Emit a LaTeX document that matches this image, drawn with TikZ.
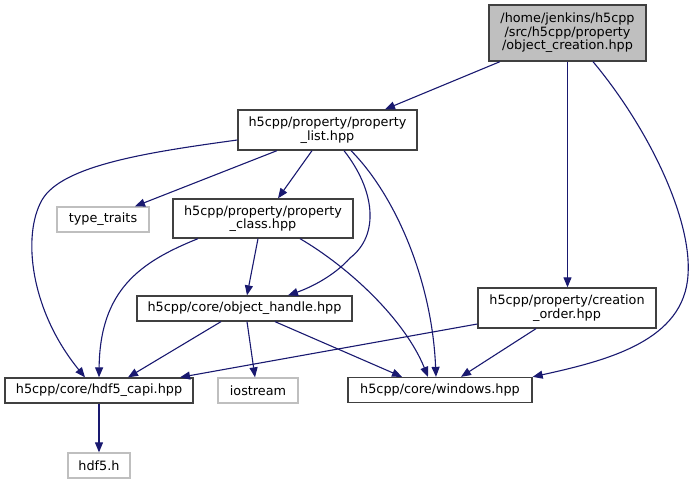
\documentclass[tikz,border=0pt]{standalone}
\usepackage{fontspec}
\setmainfont{DejaVu Sans}
\usetikzlibrary{arrows.meta}
\definecolor{edgecol}{HTML}{191970}
\definecolor{boxcol}{HTML}{404040}
\definecolor{lgray}{HTML}{BFBFBF}
\tikzset{
  fbox/.style={draw=boxcol, line width=1.3pt, fill=white, inner sep=0pt, align=center,
    font=\fontsize{12.8}{13.6}\selectfont},
  gbox/.style={fbox, draw=lgray},
  edge/.style={draw=edgecol, line width=1.1pt, -{Triangle[length=10pt,width=8pt]}},
}
\begin{document}
\begin{tikzpicture}[x=1pt,y=-1pt]
\useasboundingbox (0,0) rectangle (696,484);
\node[fbox, fill=lgray, minimum width=157pt, minimum height=56pt] (top) at (567.5,33) {/home/jenkins/h5cpp\\/src/h5cpp/property\\/object\_creation.hpp};
\node[fbox, minimum width=179pt, minimum height=40pt] (pl) at (327.5,130) {h5cpp/property/property\\\_list.hpp};
\node[gbox, minimum width=92pt, minimum height=25pt] (tt) at (103,219.5) {type\_traits};
\node[fbox, minimum width=180pt, minimum height=39pt] (pc) at (263,218.5) {h5cpp/property/property\\\_class.hpp};
\node[fbox, minimum width=215pt, minimum height=25pt] (oh) at (244.5,308.5) {h5cpp/core/object\_handle.hpp};
\node[fbox, minimum width=178pt, minimum height=40pt] (co) at (567,308) {h5cpp/property/creation\\\_order.hpp};
\node[fbox, minimum width=188pt, minimum height=25pt] (hc) at (99,390.5) {h5cpp/core/hdf5\_capi.hpp};
\node[gbox, minimum width=80pt, minimum height=25pt] (io) at (258,390.5) {iostream};
\node[fbox, minimum width=184pt, minimum height=25pt] (win) at (440,390) {h5cpp/core/windows.hpp};
\node[gbox, minimum width=62pt, minimum height=25pt] (h5) at (99,465.5) {hdf5.h};

% edges
\draw[edge] ([xshift=-67.5pt]top.south) -- ([xshift=57.5pt]pl.north);
\draw[edge] (top.south) -- (top.south |- co.north);
\draw[edge] ([xshift=25.5pt]top.south) .. controls (650,130) and (692,220) .. (688,275)
  .. controls (684,340) and (610,360) .. (win.north east);
\draw[edge] ([xshift=-50.5pt]pl.south) -- ([xshift=32pt]tt.north);
\draw[edge] ([yshift=-10pt]pl.west) .. controls (150,152) and (62,165) .. (42,200)
  .. controls (22,235) and (30,310) .. ([xshift=-14pt]hc.north);
\draw[edge] ([xshift=-15.5pt]pl.south) -- ([xshift=15pt]pc.north);
\draw[edge] ([xshift=16.5pt]pl.south) .. controls (375,190) and (380,235) .. (350,258)
  .. controls (335,275) and (312,287) .. ([xshift=43.5pt]oh.north);
\draw[edge] ([xshift=23.5pt]pl.south) .. controls (395,195) and (432,280) .. ([xshift=-4pt]win.north);
\draw[edge] ([xshift=-65pt]pc.south) .. controls (140,262) and (100,290) .. (hc.north);
\draw[edge] ([xshift=-5pt]pc.south) -- ([xshift=2.5pt]oh.north);
\draw[edge] ([xshift=37pt]pc.south) .. controls (350,268) and (405,320) .. ([xshift=-12pt]win.north);
\draw[edge] ([xshift=-23.5pt]oh.south) -- ([xshift=29pt]hc.north);
\draw[edge] ([xshift=2.5pt]oh.south) -- ([xshift=-3pt]io.north);
\draw[edge] ([xshift=30.5pt]oh.south) -- ([xshift=-38pt]win.north);
\draw[edge] ([yshift=-16pt]co.west) -- ([xshift=81pt]hc.north);
\draw[edge] ([xshift=-31pt]co.south) -- ([xshift=21pt]win.north);
\draw[edge] (hc.south) -- (h5.north);
\end{tikzpicture}
\end{document}
